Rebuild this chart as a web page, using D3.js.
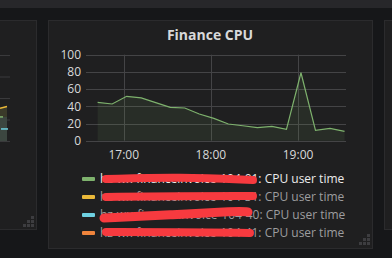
<!DOCTYPE html>
<html>
<head>
<meta charset="utf-8">
<script src="https://cdn.jsdelivr.net/npm/d3@7"></script>
<style>
  html, body { margin: 0; padding: 0; background: #161719; }
  svg { display: block; font-family: "Open Sans", sans-serif; }
</style>
</head>
<body>
<div id="chart"></div>
<script>
// sample times, 10 minute step
const times = ["16:42", "16:52", "17:02", "17:12", "17:22", "17:32", "17:42", "17:52", "18:02",
    "18:12", "18:22", "18:32", "18:42", "18:52", "19:02", "19:12", "19:22", "19:32"];
const cpuUser = [44.6, 42.7, 51.6, 49.7, 44.2, 38.8, 38, 31, 26, 19.4, 17.4, 15.1, 16.7, 13.2, 79, 12.1, 14.4, 10.9];
const yTicks = [0, 20, 40, 60, 80, 100];
const xTicks = ["17:00", "18:00", "19:00"];
const seriesNames = ["hz-wx-financeinvoice-104-01", "hz-wx-financeinvoice-104-31",
    "hz-wu-financeinvoice-104-40", "hz-wx-financeinvoice-104-41"];
const seriesColors = ["#7eb26d", "#eab839", "#6ed0e0", "#ef843c"];

// the neighbour panel on the left, only its last few points show
const leftYellow = [38, 40];
const leftGreen = [28];
const leftCyan = [14, 14];

const width = 392, height = 258;
const parse = d3.timeParse("%H:%M");

const svg = d3.select("#chart").append("svg")
    .attr("width", width)
    .attr("height", height);

// top bar and panels
svg.append("rect").attr("x", 0).attr("y", 0).attr("width", width).attr("height", 8).attr("fill", "#27272a");

function panel(x, y, w, h) {
    svg.append("rect")
        .attr("x", x + 0.5).attr("y", y + 0.5)
        .attr("width", w).attr("height", h)
        .attr("fill", "#1f1f20")
        .attr("stroke", "#2b2b2d");
}
panel(-2, 20, 38, 209);
panel(48, 20, 324, 228);
panel(384, 20, 20, 209);

function resizeHandle(right, bottom) {
    const cells = [[2, 0], [1, 1], [2, 1], [0, 2], [1, 2], [2, 2]];
    svg.append("g").selectAll("rect")
        .data(cells)
        .enter()
        .append("rect")
        .attr("x", d => right - 12 + d[0] * 4)
        .attr("y", d => bottom - 12 + d[1] * 4)
        .attr("width", 3)
        .attr("height", 3)
        .attr("fill", "#3d3d40");
}
resizeHandle(35, 228);
resizeHandle(371, 246);

// left panel sliver
const ly = d3.scaleLinear().domain([0, 100]).range([141, 55]);
const lx = d3.scaleLinear().domain([0, 1]).range([0, 7]);
svg.append("g").selectAll("line")
    .data([0, 25, 50, 75, 100])
    .enter()
    .append("line")
    .attr("x1", 0).attr("x2", 10)
    .attr("y1", d => ly(d) + 0.5).attr("y2", d => ly(d) + 0.5)
    .attr("stroke", "#3a3a3c");
svg.append("path")
    .datum(leftYellow)
    .attr("fill", "#3a3a29")
    .attr("d", d3.area().x((d, i) => lx(i)).y0(ly(0)).y1(d => ly(d)));
svg.append("rect")
    .attr("x", 0).attr("y", ly(leftGreen[0])).attr("width", 7).attr("height", ly(0) - ly(leftGreen[0]))
    .attr("fill", "#3c4640");
svg.append("path")
    .datum(leftYellow)
    .attr("fill", "none").attr("stroke", "#eab839").attr("stroke-width", 1.5)
    .attr("d", d3.line().x((d, i) => lx(i)).y(d => ly(d)));
svg.append("line")
    .attr("x1", 0).attr("x2", 3).attr("y1", ly(leftGreen[0])).attr("y2", ly(leftGreen[0]))
    .attr("stroke", "#7eb26d").attr("stroke-width", 1.5);
svg.append("path")
    .datum(leftCyan)
    .attr("fill", "none").attr("stroke", "#6ed0e0").attr("stroke-width", 1.5)
    .attr("d", d3.line().x((d, i) => lx(i) + 1).y(d => ly(d)));

// title
svg.append("text")
    .attr("x", 210)
    .attr("y", 40)
    .attr("text-anchor", "middle")
    .attr("fill", "#d8d9da")
    .style("font-size", "14px")
    .style("font-weight", "bold")
    .text("Finance CPU");

// scales
const x = d3.scaleTime()
    .domain([parse("16:34"), parse("19:33")])
    .range([86, 346]);
const y = d3.scaleLinear()
    .domain([0, 100])
    .range([140.7, 54.7]);

// grid
svg.append("g").selectAll("line")
    .data(yTicks)
    .enter()
    .append("line")
    .attr("x1", 86).attr("x2", 346)
    .attr("y1", d => Math.round(y(d)) + 0.5).attr("y2", d => Math.round(y(d)) + 0.5)
    .attr("stroke", "#444446");
svg.append("g").selectAll("line")
    .data(xTicks)
    .enter()
    .append("line")
    .attr("x1", d => Math.round(x(parse(d))) + 0.5).attr("x2", d => Math.round(x(parse(d))) + 0.5)
    .attr("y1", y(100)).attr("y2", y(0))
    .attr("stroke", "#444446");

// tick labels
svg.append("g").selectAll("text")
    .data(yTicks)
    .enter()
    .append("text")
    .attr("x", 81)
    .attr("y", d => y(d))
    .attr("dy", "0.35em")
    .attr("text-anchor", "end")
    .attr("fill", "#d8d9da")
    .style("font-size", "12px")
    .text(d => d);
svg.append("g").selectAll("text")
    .data(xTicks)
    .enter()
    .append("text")
    .attr("x", d => x(parse(d)))
    .attr("y", 155)
    .attr("dy", "0.35em")
    .attr("text-anchor", "middle")
    .attr("fill", "#d8d9da")
    .style("font-size", "12px")
    .text(d => d);

// area + line
const points = times.map((t, i) => ({t: parse(t), v: cpuUser[i]}));
svg.append("path")
    .datum(points)
    .attr("fill", "#7eb26d")
    .attr("fill-opacity", 0.1)
    .attr("d", d3.area().x(d => x(d.t)).y0(y(0)).y1(d => y(d.v)));
svg.append("path")
    .datum(points)
    .attr("fill", "none")
    .attr("stroke", "#7eb26d")
    .attr("stroke-width", 1.2)
    .attr("d", d3.line().x(d => x(d.t)).y(d => y(d.v)));

// legend
const legend = svg.append("g").selectAll("g")
    .data(seriesNames)
    .enter()
    .append("g")
    .attr("transform", (d, i) => "translate(0," + (179 + i * 18) + ")");
legend.append("rect")
    .attr("x", 82).attr("y", -2)
    .attr("width", 13).attr("height", 4)
    .attr("rx", 1)
    .attr("fill", (d, i) => seriesColors[i]);
legend.append("text")
    .attr("x", 100)
    .attr("dy", "0.35em")
    .attr("fill", (d, i) => i === 0 ? "#ececec" : "#9d9d9f")
    .style("font-size", "12px")
    .text(d => d + ": CPU user time");

// redaction strokes over the host names
const redactions = [
    [[106, 179], [180, 177], [253, 180]],
    [[106, 197], [180, 196], [253, 196]],
    [[104, 218], [170, 215], [238, 211], [248, 212]],
    [[106, 232], [180, 232], [250, 233]]
];
svg.append("g").selectAll("path")
    .data(redactions)
    .enter()
    .append("path")
    .attr("d", d3.line().curve(d3.curveBasis))
    .attr("fill", "none")
    .attr("stroke", "#f73a3f")
    .attr("stroke-width", (d, i) => i === 2 ? 9 : 8)
    .attr("stroke-linecap", "round");
</script>
</body>
</html>
